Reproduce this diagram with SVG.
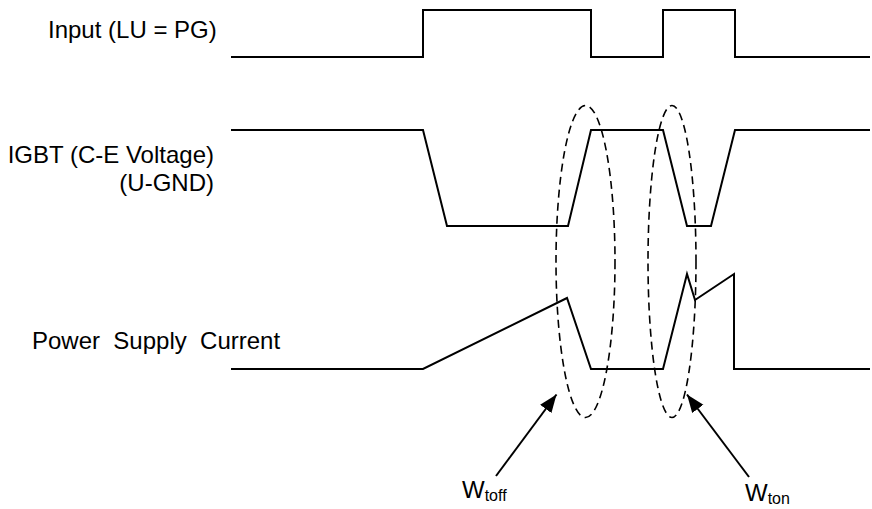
<svg xmlns="http://www.w3.org/2000/svg" width="872" height="509" viewBox="0 0 872 509">
<style>
.lbl{font-family:"Liberation Sans",Arial,sans-serif;font-size:24px;fill:#000}
.sub{font-size:16px}
.wave{fill:none;stroke:#000;stroke-width:2;stroke-linejoin:miter}
.dash{fill:none;stroke:#000;stroke-width:1.6;stroke-dasharray:8,5}
.arr{fill:none;stroke:#000;stroke-width:2}
</style>
<defs>
<marker id="ah" markerUnits="userSpaceOnUse" markerWidth="20" markerHeight="16" refX="18" refY="7" orient="auto" viewBox="0 0 20 14">
<path d="M0,0 L18,7 L0,14 Z" fill="#000"/>
</marker>
</defs>
<rect width="872" height="509" fill="#fff"/>
<g id="labels">
<text class="lbl" x="48" y="38">Input (LU = PG)</text>
<text class="lbl" x="214" y="163" text-anchor="end">IGBT (C-E Voltage)</text>
<text class="lbl" x="214" y="191" text-anchor="end">(U-GND)</text>
<text class="lbl" x="32" y="349" xml:space="preserve">Power  Supply  Current</text>
</g>
<g id="input-wave">
<polyline class="wave" points="231,57 423,57 423,10 591,10 591,57 663,57 663,10 735,10 735,57 870,57"/>
</g>
<g id="igbt-wave">
<polyline class="wave" points="231,130 423,130 447,226 568,226 591,130 663,130 687,226 711,226 735,130 870,130"/>
</g>
<g id="current-wave">
<polyline class="wave" points="231,369 423,369 567,298 591,369 663,369 687,274 695,300 734,274 734,369 870,369"/>
</g>
<g id="wtoff-region">
<ellipse class="dash" cx="585.5" cy="261.5" rx="29.5" ry="156"/>
</g>
<g id="wton-region">
<ellipse class="dash" cx="672" cy="261.5" rx="24" ry="156"/>
</g>
<g id="connectors">
<line class="arr" x1="496" y1="476" x2="556.5" y2="394.5" marker-end="url(#ah)"/>
<line class="arr" x1="749" y1="477" x2="687" y2="394.5" marker-end="url(#ah)"/>
</g>
<g id="wtoff-label">
<text class="lbl" x="462" y="498">W<tspan class="sub" dy="3">toff</tspan></text>
</g>
<g id="wton-label">
<text class="lbl" x="745" y="501">W<tspan class="sub" dy="3">ton</tspan></text>
</g>
</svg>
